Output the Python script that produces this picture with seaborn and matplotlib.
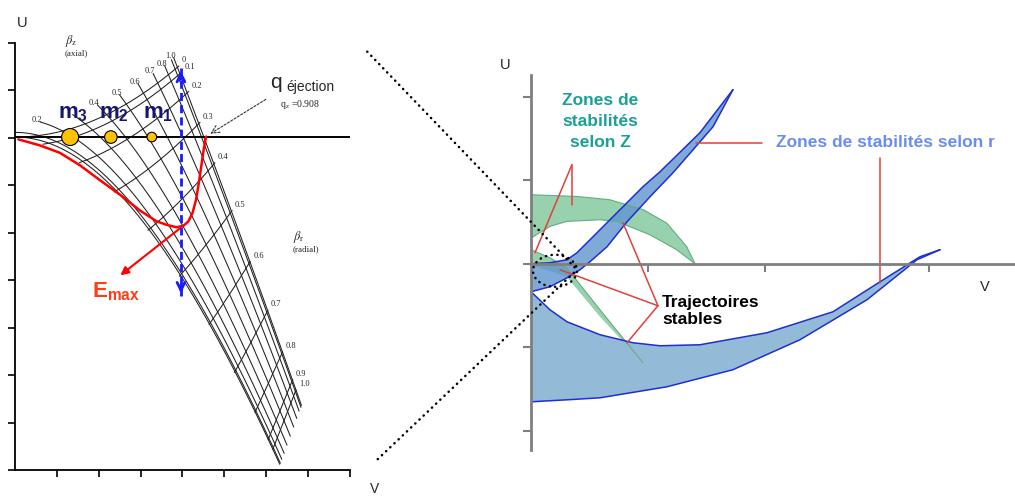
import numpy as np
import matplotlib
matplotlib.use("Agg")
import matplotlib.pyplot as plt
from matplotlib.patches import Ellipse
import seaborn as sns

sns.set_theme(style="white")
plt.rcParams["font.family"] = ["Liberation Sans", "DejaVu Sans"]
plt.rcParams["mathtext.fontset"] = "custom"
plt.rcParams["mathtext.rm"] = "Liberation Sans"
plt.rcParams["mathtext.bf"] = "Liberation Sans:bold"

# ---------------- left panel data (qz, az) ----------------
beta_levels = [0.0, 0.1, 0.2, 0.3, 0.4, 0.5, 0.6, 0.7, 0.8, 0.9, 1.0]
beta_z_labels = [0.2, 0.4, 0.5, 0.6, 0.7, 0.8, 1.0]
beta_r_labels = [0.0, 0.1, 0.2, 0.3, 0.4, 0.5, 0.6, 0.7, 0.8, 0.9, 1.0]
q_eject = 0.928
scan_q = 0.798
scan_a = [0.148, -0.342]

ion_q = [0.265, 0.461, 0.658]
ion_size = [150, 82, 48]
ion_names = ["3", "2", "1"]
ion_label_q = [0.277, 0.476, 0.687]

emax_q = [0.016, 0.120, 0.216, 0.313, 0.409, 0.505, 0.601, 0.680, 0.730, 0.777,
          0.809, 0.833, 0.854, 0.870, 0.884, 0.898, 0.909, 0.919]
emax_a = [-0.005, -0.018, -0.034, -0.061, -0.093, -0.124, -0.158, -0.181, -0.189, -0.194,
          -0.191, -0.182, -0.163, -0.136, -0.099, -0.056, -0.022, 0.001]
emax_arrow = [(0.803, -0.193), (0.496, -0.301)]

# ---------------- right panel data (V, U) ----------------
r_band_up_v = [0, 0.162, 0.308, 0.393, 0.530, 0.675, 0.821, 0.957, 1.103, 1.444, 1.726]
r_band_up_u = [0, 0.012, 0.048, 0.132, 0.323, 0.527, 0.731, 0.922, 1.102, 1.569, 2.084]
r_band_lo_v = [0, 0.162, 0.308, 0.419, 0.504, 0.650, 0.821, 1.017, 1.214, 1.385, 1.556, 1.726]
r_band_lo_u = [-0.335, -0.275, -0.168, -0.072, 0.024, 0.204, 0.503, 0.802, 1.090, 1.365, 1.641, 2.084]

r_big_up_v = [0, 0.162, 0.308, 0.590, 0.872, 1.103, 1.444, 2.017, 2.581, 2.983, 3.325, 3.496]
r_big_up_u = [-0.335, -0.551, -0.695, -0.850, -0.946, -0.982, -0.970, -0.826, -0.575, -0.216, 0.084, 0.168]
r_big_lo_v = [0, 0.308, 0.590, 1.162, 1.726, 2.299, 2.872, 3.299, 3.496]
r_big_lo_u = [-1.653, -1.629, -1.605, -1.473, -1.269, -0.910, -0.431, 0.048, 0.168]

z_band_up_v = [0, 0.39, 0.675, 0.96, 1.16, 1.33, 1.402]
z_band_up_u = [0.826, 0.806, 0.766, 0.647, 0.487, 0.207, 0.0]
z_band_lo_v = [0, 0.162, 0.305, 0.590, 0.732, 1.017, 1.245, 1.402]
z_band_lo_u = [0.307, 0.447, 0.507, 0.527, 0.507, 0.347, 0.168, 0.0]

z_wedge_up_v = [0, 0.162, 0.305, 0.59, 0.957]
z_wedge_up_u = [0.168, 0.072, -0.048, -0.551, -1.186]
z_wedge_lo_v = [0, 0.305, 0.59, 0.957]
z_wedge_lo_u = [-0.012, -0.156, -0.635, -1.186]

leader_z = [[(0.350, 1.186), (0.350, 0.707)], [(0.350, 1.186), (0.034, 0.132)]]
leader_r = [[(1.410, 1.449), (1.974, 1.449)], [(2.983, 1.269), (2.983, -0.228)]]
leader_t = [[(1.085, -0.503), (0.248, -0.072)], [(1.085, -0.503), (0.786, 0.491)],
            [(1.085, -0.503), (0.821, -0.946)]]
zoom_lines = [[(-1.40, 2.54), (0.393, -0.072)], [(-1.31, -2.34), (0.393, -0.072)]]
zoom_circle = (0.205, -0.084, 0.376, 0.383)


def mathieu_delta(a, q, n=240):
    # half trace of the monodromy matrix over one period (pi)
    h = np.pi / n
    sols = [[np.ones_like(a), np.zeros_like(a)], [np.zeros_like(a), np.ones_like(a)]]
    for i in range(n):
        t = i * h
        w0 = a - 2 * q * np.cos(2 * t)
        wm = a - 2 * q * np.cos(2 * (t + h / 2))
        w1 = a - 2 * q * np.cos(2 * (t + h))
        for s in sols:
            y, p = s
            k1y, k1p = p, -w0 * y
            k2y, k2p = p + h / 2 * k1p, -wm * (y + h / 2 * k1y)
            k3y, k3p = p + h / 2 * k2p, -wm * (y + h / 2 * k2y)
            k4y, k4p = p + h * k3p, -w1 * (y + h * k3y)
            s[0] = y + h / 6 * (k1y + 2 * k2y + 2 * k3y + k4y)
            s[1] = p + h / 6 * (k1p + 2 * k2p + 2 * k3p + k4p)
    return (sols[0][0] + sols[1][1]) / 2


W, H = 1015, 498
fig = plt.figure(figsize=(W / 100, H / 100), dpi=100)


def box(l, t, r, b):
    return [l / W, 1 - b / H, (r - l) / W, (b - t) / H]


axL = fig.add_axes(box(15, 43, 350, 470))
axR = fig.add_axes(box(531, 75, 1015, 450))

# ---------------- left panel ----------------
q_max, a_min, a_max = 1.611, -0.716, 0.2022
qq, aa = np.meshgrid(np.linspace(0, q_max, 330), np.linspace(a_min, a_max, 250))
dz = mathieu_delta(aa, qq)
dr = mathieu_delta(-aa / 2, qq / 2)
dz_m = np.ma.masked_where(np.abs(dr) > 1.08, dz)
dr_m = np.ma.masked_where(np.abs(dz) > 1.05, dr)

grid_kw = dict(colors="#202020", linewidths=0.75, negative_linestyles="solid")
for b in beta_levels:
    lev = np.cos(np.pi * b)
    csz = axL.contour(qq, aa, dz_m, levels=[lev], **grid_kw)
    csr = axL.contour(qq, aa, dr_m, levels=[lev], **grid_kw)
    vz = csz.get_paths()[0].vertices
    vr = csr.get_paths()[0].vertices
    if b in beta_z_labels and len(vz):
        top = vz[np.argmax(vz[:, 1])]
        axL.annotate(f"{b:.1f}", top, xytext=(-2, 1.2), textcoords="offset points",
                     fontsize=6, family="Liberation Serif", ha="center", va="center")
    if b in beta_r_labels and len(vr):
        right = vr[np.argmax(vr[:, 0])]
        txt = "0" if b == 0 else f"{b:.1f}"
        axL.annotate(txt, right, xytext=(2, 1), textcoords="offset points",
                     fontsize=6, family="Liberation Serif", ha="left", va="bottom")

axL.axhline(0, color="black", lw=1.4, zorder=3)
axL.plot(emax_q, emax_a, color="#ff0000", lw=1.8, zorder=4)
axL.annotate("", xy=emax_arrow[1], xytext=emax_arrow[0],
             arrowprops=dict(arrowstyle="-|>", color="#ff0000", lw=1.5, mutation_scale=12), zorder=4)
axL.text(0.371, -0.344, r"$\mathbf{E}_{\mathbf{max}}$", color="#ff3c14", fontsize=16,
         ha="left", va="baseline")

axL.plot([scan_q, scan_q], scan_a, color="#1a1aff", lw=2, dashes=(2.9, 1.5), zorder=4)
for tip, tail in [(scan_a[0], scan_a[0] - 0.03), (scan_a[1], scan_a[1] + 0.03)]:
    axL.annotate("", xy=(scan_q, tip), xytext=(scan_q, tail),
                 arrowprops=dict(arrowstyle="->", color="#1a1aff", lw=2, mutation_scale=14), zorder=4)

sns.scatterplot(x=ion_q, y=[0] * 3, s=ion_size, color="#ffc200", edgecolor="black",
                linewidth=0.8, ax=axL, zorder=5, legend=False)
for q, n in zip(ion_label_q, ion_names):
    axL.text(q, 0.041, r"$\mathbf{m}_{\mathbf{%s}}$" % n, color="#16166e", fontsize=16,
             ha="center", va="baseline", zorder=6)

axL.annotate("", xy=(q_eject, 0.004), xytext=(1.217, 0.084),
             arrowprops=dict(arrowstyle="->", color="#333333", lw=0.8, ls=(0, (2, 1.5)),
                             mutation_scale=14))
axL.text(1.226, 0.106, "q", fontsize=15, ha="left", va="baseline")
axL.text(1.307, 0.099, "éjection", fontsize=10, ha="left", va="baseline")
axL.text(1.274, 0.065, r"q$_{\rm z}$ =0.908", fontsize=7, family="Liberation Serif",
         math_fontfamily="stix", ha="left", va="baseline")
axL.text(0.240, 0.201, r"$\beta_{\rm z}$", fontsize=9, math_fontfamily="stix", ha="left", va="baseline")
axL.text(0.240, 0.175, "(axial)", fontsize=6.5, family="Liberation Serif", ha="left", va="baseline")
axL.text(1.337, -0.222, r"$\beta_{\rm r}$", fontsize=9, math_fontfamily="stix", ha="left", va="baseline")
axL.text(1.337, -0.246, "(radial)", fontsize=6.5, family="Liberation Serif", ha="left", va="baseline")
axL.text(0.034, 0.245, "U", fontsize=10.5, ha="center", va="center", clip_on=False)
axL.text(1.731, -0.772, "V", fontsize=10, ha="center", va="bottom", clip_on=False)

axL.set_xlim(0, q_max)
axL.set_ylim(a_min, a_max)
axL.set_xticks(np.linspace(0, q_max, 9)[1:])
axL.set_yticks(np.linspace(a_min, a_max, 10))
axL.set_xticklabels([])
axL.set_yticklabels([])
axL.tick_params(bottom=True, left=True, direction="out", length=5, width=1.2, color="black")
for s in ["top", "right"]:
    axL.spines[s].set_visible(False)
for s in ["left", "bottom"]:
    axL.spines[s].set_color("black")
    axL.spines[s].set_linewidth(1.3)
axL.set_facecolor("none")

# ---------------- right panel ----------------
axR.fill(np.r_[z_band_up_v, z_band_lo_v[::-1]], np.r_[z_band_up_u, z_band_lo_u[::-1]],
         color="#86c9a0", alpha=0.85, lw=0)
axR.plot(z_band_up_v, z_band_up_u, color="#5fae80", lw=0.8)
axR.plot(z_band_lo_v, z_band_lo_u, color="#5fae80", lw=0.8)
axR.fill(np.r_[z_wedge_up_v, z_wedge_lo_v[::-1]], np.r_[z_wedge_up_u, z_wedge_lo_u[::-1]],
         color="#86c9a0", alpha=0.85, lw=0)
axR.plot(z_wedge_up_v, z_wedge_up_u, color="#6aa888", lw=0.8)

axR.fill(np.r_[r_big_up_v, r_big_lo_v[::-1]], np.r_[r_big_up_u, r_big_lo_u[::-1]],
         color="#93bbd8", lw=0)
axR.fill(np.r_[r_band_up_v, r_band_lo_v[::-1]], np.r_[r_band_up_u, r_band_lo_u[::-1]],
         color="#5f95cf", alpha=0.8, lw=0)
for v, u in [(r_big_up_v, r_big_up_u), (r_big_lo_v, r_big_lo_u),
             (r_band_up_v, r_band_up_u), (r_band_lo_v, r_band_lo_u)]:
    axR.plot(v, u, color="#1f2ed1", lw=1.1)

for seg in leader_z + leader_r + leader_t:
    (x0, y0), (x1, y1) = seg
    axR.plot([x0, x1], [y0, y1], color="#e0403a", lw=1.1)

axR.text(0.59, 1.707, "Zones de\nstabilités\nselon Z", color="#1aa096", fontsize=12.5,
         fontweight="bold", ha="center", va="center", linespacing=1.5)
axR.text(2.094, 1.449, "Zones de stabilités selon r", color="#6b8cf2", fontsize=12.5,
         fontweight="bold", ha="left", va="center")
axR.text(1.12, -0.569, "Trajectoires\nstables", color="black", fontsize=12.5,
         fontweight="bold", ha="left", va="center", linespacing=1.15)
axR.text(-0.222, 2.383, "U", fontsize=10.5, ha="center", va="center", clip_on=False)
axR.text(3.88, -0.275, "V", fontsize=10.5, ha="center", va="center")

for (x0, y0), (x1, y1) in zoom_lines:
    axR.plot([x0, x1], [y0, y1], color="black", lw=1.8, ls=(0, (0.1, 2.2)),
             dash_capstyle="round", clip_on=False, zorder=8)
cx, cy, cw, ch = zoom_circle
axR.add_patch(Ellipse((cx, cy), cw, ch, fill=False, ec="black", lw=1.8, ls=(0, (0.1, 2.2)),
                      capstyle="round", clip_on=False, zorder=8))

axR.set_xlim(0, 4.137)
axR.set_ylim(-2.23, 2.26)
axR.set_xticks([1.0, 2.0, 3.4])
axR.set_yticks([-2, -1, 0, 1, 2])
axR.set_xticklabels([])
axR.set_yticklabels([])
axR.spines["bottom"].set_position(("data", 0))
for s in ["top", "right"]:
    axR.spines[s].set_visible(False)
for s in ["left", "bottom"]:
    axR.spines[s].set_color("#7f7f7f")
    axR.spines[s].set_linewidth(2)
axR.tick_params(bottom=True, left=True, direction="out", length=6, width=1.5, color="#7f7f7f")
axR.set_facecolor("none")

fig.savefig("out.png", dpi=100)
